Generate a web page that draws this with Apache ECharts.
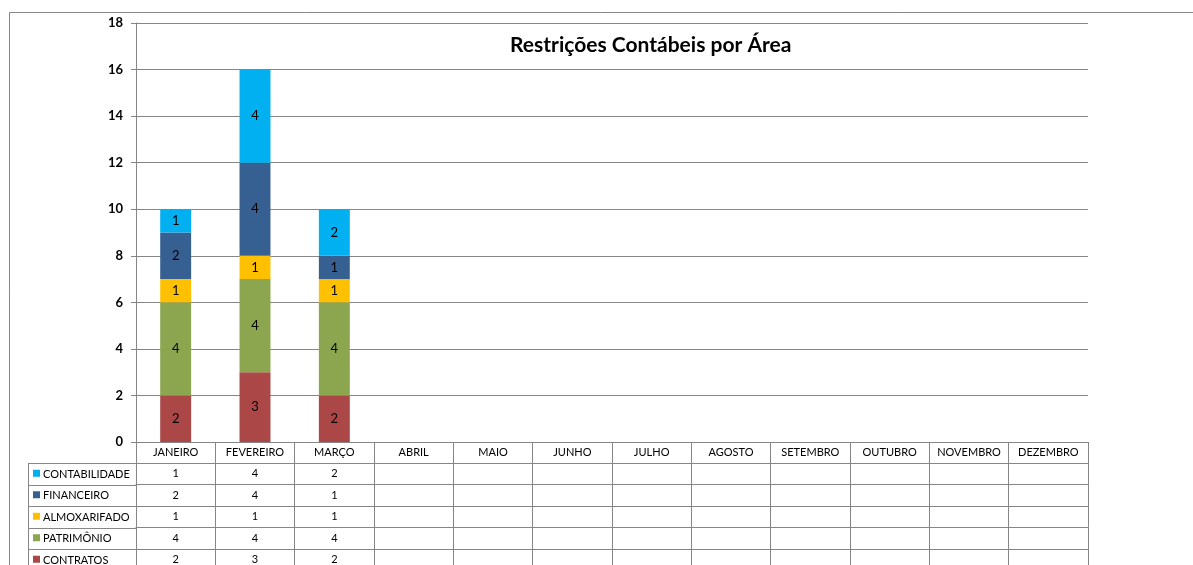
<!DOCTYPE html>
<html>
<head>
<meta charset="utf-8">
<script src="https://cdn.jsdelivr.net/npm/echarts@6/dist/echarts.min.js"></script>
<style>
  html, body { margin: 0; padding: 0; background: #fff; }
  #chart { width: 1193px; height: 565px; }
</style>
</head>
<body>
<div id="chart"></div>
<script>
// dados
var meses = ['JANEIRO', 'FEVEREIRO', 'MARÇO', 'ABRIL', 'MAIO', 'JUNHO', 'JULHO',
             'AGOSTO', 'SETEMBRO', 'OUTUBRO', 'NOVEMBRO', 'DEZEMBRO'];
var contabilidade = [1, 4, 2];
var financeiro = [2, 4, 1];
var almoxarifado = [1, 1, 1];
var patrimonio = [4, 4, 4];
var contratos = [2, 3, 2];
var titulo = 'Restrições Contábeis por Área';

// linhas da tabela, de cima para baixo
var linhas = [
  { nome: 'CONTABILIDADE', dados: contabilidade, cor: '#00B0F0' },
  { nome: 'FINANCEIRO', dados: financeiro, cor: '#376092' },
  { nome: 'ALMOXARIFADO', dados: almoxarifado, cor: '#FFC000' },
  { nome: 'PATRIMÔNIO', dados: patrimonio, cor: '#8BA64E' },
  { nome: 'CONTRATOS', dados: contratos, cor: '#AB4747' }
];

var FONTE = 'Lato, "Open Sans", sans-serif';
var CINZA = '#868686';
var ROW = 21.5;
var chart = echarts.init(document.getElementById('chart'));

// eixos x: cabeçalho (meses) + uma linha por série
var xAxes = [{
  type: 'category', data: meses, gridIndex: 0, position: 'bottom', offset: 0,
  axisLine: { lineStyle: { color: CINZA } },
  axisTick: { show: true, length: 21, interval: 0, lineStyle: { color: CINZA } },
  axisLabel: { interval: 0, color: '#000', fontSize: 11, fontFamily: FONTE, margin: 5 }
}];
linhas.forEach(function (l, i) {
  xAxes.push({
    type: 'category', data: meses, gridIndex: 0, position: 'bottom',
    offset: 21 + i * ROW,
    axisLine: { lineStyle: { color: CINZA } },
    axisTick: { show: true, length: ROW, interval: 0, lineStyle: { color: CINZA } },
    axisLabel: {
      interval: 0, color: '#000', fontSize: 11, fontFamily: FONTE, margin: 5,
      formatter: function (v, idx) { return l.dados[idx] == null ? '' : String(l.dados[idx]); }
    }
  });
});

// séries empilhadas: de baixo (contratos) para cima (contabilidade)
var series = linhas.slice().reverse().map(function (l) {
  return {
    name: l.nome, type: 'bar', stack: 'total', xAxisIndex: 0, barWidth: '39%',
    data: l.dados,
    itemStyle: { color: l.cor },
    label: { show: true, position: 'inside', color: '#000', fontSize: 13, fontFamily: FONTE }
  };
});

// coluna da esquerda (nomes + quadradinhos)
var gTop = 463;
var graphic = [
  { type: 'rect', shape: { x: 9.5, y: 12.5, width: 1300, height: 700 },
    style: { fill: null, stroke: CINZA, lineWidth: 1 }, silent: true },
  { type: 'line', shape: { x1: 28.5, y1: gTop, x2: 28.5, y2: 600 },
    style: { stroke: CINZA, lineWidth: 1 } }
];
linhas.forEach(function (l, i) {
  var y = gTop + i * ROW;
  graphic.push({ type: 'line', shape: { x1: 28.5, y1: Math.round(y) + 0.5, x2: 136, y2: Math.round(y) + 0.5 },
    style: { stroke: CINZA, lineWidth: 1 } });
  graphic.push({ type: 'rect', shape: { x: 33, y: y + ROW / 2 - 4, width: 7, height: 7 },
    style: { fill: l.cor } });
  graphic.push({ type: 'text', x: 43, y: y + ROW / 2 + 0.5,
    style: { text: l.nome, fill: '#000', font: '11px ' + FONTE, verticalAlign: 'middle' } });
});

chart.setOption({
  animation: false,
  title: {
    text: titulo, left: 505, top: 30,
    textStyle: { fontFamily: FONTE, fontWeight: 'bold', fontSize: 21, color: '#000' }
  },
  grid: { left: 136, right: 105, top: 23, bottom: 123 },
  xAxis: xAxes,
  yAxis: {
    type: 'value', min: 0, max: 18, interval: 2,
    axisLine: { show: true, lineStyle: { color: CINZA } },
    axisTick: { show: true, length: 5, lineStyle: { color: CINZA } },
    axisLabel: { color: '#000', fontWeight: 'bold', fontSize: 13, fontFamily: FONTE, margin: 13 },
    splitLine: { lineStyle: { color: CINZA } }
  },
  series: series,
  graphic: graphic
});
</script>
</body>
</html>
